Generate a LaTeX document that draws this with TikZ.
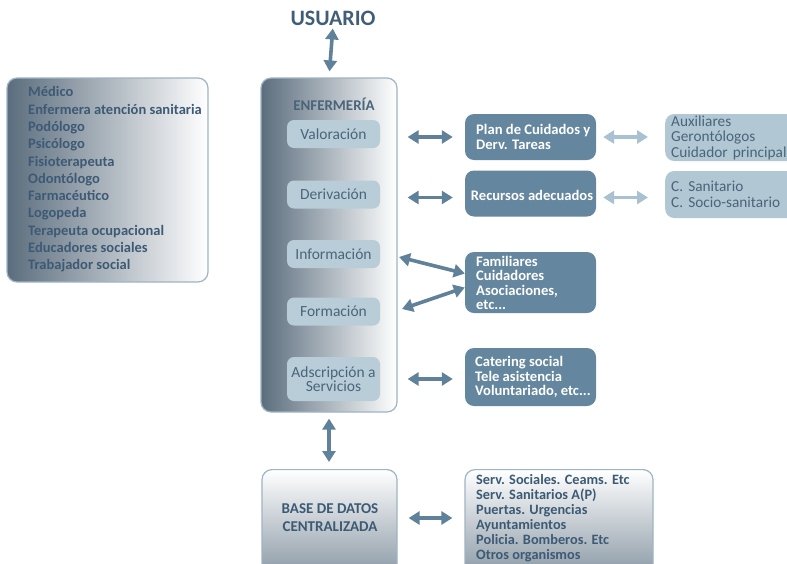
\documentclass[tikz,border=0pt]{standalone}
\usepackage{fontspec}
\setmainfont{Carlito}
\usetikzlibrary{arrows.meta}
\definecolor{txtdk}{HTML}{3D5A75}
\definecolor{txtmd}{HTML}{4A6579}
\definecolor{boxdk}{HTML}{64869E}
\definecolor{boxlt}{HTML}{B8CDD8}
\definecolor{boxrt}{HTML}{B1C7D4}
\definecolor{arrdk}{HTML}{5F8199}
\definecolor{arrlt}{HTML}{A9C1D0}
\definecolor{edge}{HTML}{9FB4C4}
\definecolor{shdk}{HTML}{5B6D7D}
\definecolor{shmd}{HTML}{C9CED3}
\definecolor{shbt}{HTML}{6F8190}
\tikzset{
  hshade/.style={draw=edge, line width=1.2pt, rounded corners=10pt, left color=shdk, middle color=shmd, right color=white, inner sep=0pt},
  vshade/.style={draw=edge, line width=1.2pt, rounded corners=10pt, top color=white, middle color=white!85!shbt, bottom color=shbt, inner sep=0pt},
  innerbox/.style={fill=boxlt, rounded corners=7pt, minimum width=93pt, text=txtmd, font=\fontsize{15.5}{14.5}\selectfont, align=center, inner sep=0pt},
  darkbox/.style={fill=boxdk, rounded corners=9pt, minimum width=131pt, inner sep=0pt},
  darktxt/.style={anchor=west, text=white, font=\bfseries\fontsize{14.6}{14.5}\selectfont, align=left, inner sep=0pt},
  rightbox/.style={fill=boxrt, rounded corners=9pt, minimum width=140pt, text=txtmd, font=\fontsize{15.3}{15.5}\selectfont, inner sep=0pt},
  arr/.style={line width=3.6pt, draw=arrdk, {Triangle[width=13pt,length=11pt]}-{Triangle[width=13pt,length=11pt]}},
  arrl/.style={line width=3.6pt, draw=arrlt, {Triangle[width=13pt,length=11pt]}-{Triangle[width=13pt,length=11pt]}},
}
\begin{document}
\begin{tikzpicture}[x=1pt,y=-1pt]
\useasboundingbox (0,0) rectangle (787,563);
% left professionals box
\node[hshade, minimum width=201pt, minimum height=204pt] (prof) at (107.5,180) {};
\node[anchor=north west, text=txtdk, font=\bfseries\fontsize{14.5}{17.3}\selectfont, align=left, inner sep=0pt] (proftxt) at (28,86.5) {M\'edico\\Enfermera atenci\'on sanitaria\\Pod\'ologo\\Psic\'ologo\\Fisioterapeuta\\Odont\'ologo\\Farmac\'eutico\\Logopeda\\Terapeuta ocupacional\\Educadores sociales\\Trabajador social};
% usuario
\node[text=txtdk!90!boxdk, font=\bfseries\fontsize{22}{26}\selectfont, inner sep=0pt] (usu) at (333,18) {USUARIO};
% enfermeria
\node[hshade, minimum width=136pt, minimum height=334pt] (enf) at (329,245) {};
\node[text=txtmd, font=\bfseries\fontsize{14.9}{15}\selectfont, inner sep=0pt] (enft) at (334,104) {ENFERMERÍA};
\node[innerbox, minimum height=28pt] (valo) at (333.5,134) {Valoración};
\node[innerbox, minimum height=28pt] (deri) at (333.5,194.5) {Derivación};
\node[innerbox, minimum height=28pt] (info) at (333.5,254) {Información};
\node[innerbox, minimum height=28pt] (form) at (333.5,311.5) {Formación};
\node[innerbox, minimum height=44pt] (adsc) at (333.5,379) {Adscripción a\\Servicios};
% dark boxes
\node[darkbox, minimum height=46pt] (plan) at (530.5,137) {};
\node[darktxt] (plant) at (476,137) {Plan de Cuidados y\\Derv. Tareas};
\node[darkbox, minimum height=46pt] (recu) at (530.5,193.5) {};
\node[darktxt, anchor=center] (recut) at (532,195) {Recursos adecuados};
\node[darkbox, minimum height=61pt] (fam) at (530.5,282.5) {};
\node[darktxt] (famt) at (476,283) {Familiares\\Cuidadores\\Asociaciones,\\etc...};
\node[darkbox, minimum height=58pt] (cat) at (530.5,377) {};
\node[darktxt] (catt) at (475,377) {Catering social\\Tele asistencia\\Voluntariado, etc...};
% far right boxes
\node[rightbox, minimum height=47pt, anchor=west, align=left, text width=128pt] (aux) at (665,137.5) {Auxiliares\\Gerontólogos\\Cuidador principal};
\node[rightbox, minimum height=47pt, anchor=west, align=left, text width=128pt] (csan) at (665,194.5) {C. Sanitario\\C. Socio-sanitario};
% bottom
\node[vshade, minimum width=135pt, minimum height=131pt, anchor=north] (base) at (329.5,469) {};
\node[text=txtdk, font=\bfseries\fontsize{15}{18}\selectfont, align=center, inner sep=0pt] (baset) at (330,518) {BASE DE DATOS\\CENTRALIZADA};
\node[vshade, minimum width=188pt, minimum height=131pt, anchor=north] (serv) at (559,469) {};
\node[anchor=north west, text=txtdk, font=\bfseries\fontsize{14.3}{15.1}\selectfont, align=left, inner sep=0pt] (servt) at (476,474) {Serv. Sociales. Ceams. Etc\\Serv. Sanitarios A(P)\\Puertas. Urgencias\\Ayuntamientos\\Policia. Bomberos. Etc\\Otros organismos};
% arrows
\draw[arr, shorten <=3pt, shorten >=6pt] (usu.south) -- (enf.north);
\draw[arr, shorten <=10pt, shorten >=12pt] (enf.east |- plan.west) -- (plan.west);
\draw[arr, shorten <=10pt, shorten >=12pt] ([yshift=-4pt]enf.east |- recu.west) -- ([yshift=-4pt]recu.west);
\draw[arr, shorten <=10pt, shorten >=12pt] (enf.east |- adsc.east) -- (adsc.east -| cat.west);
\draw[arrl, shorten <=7pt, shorten >=17pt] (plan.east) -- (plan.east -| aux.west);
\draw[arrl, shorten <=7pt, shorten >=17pt] ([yshift=-4pt]recu.east) -- ([yshift=-4pt]recu.east -| csan.west);
\coordinate (infoend) at (399,257);
\coordinate (formend) at (402,309);
\draw[arr] (infoend) -- ([yshift=9pt]fam.west);
\draw[arr] (formend) -- ([yshift=-5pt]fam.west);
\draw[arr, shorten <=6pt, shorten >=7pt] (enf.south) -- (enf.south |- base.north);
\draw[arr, shorten <=11pt, shorten >=12pt] (base.east |- baset.east) -- (baset.east -| serv.west);
\end{tikzpicture}
\end{document}
